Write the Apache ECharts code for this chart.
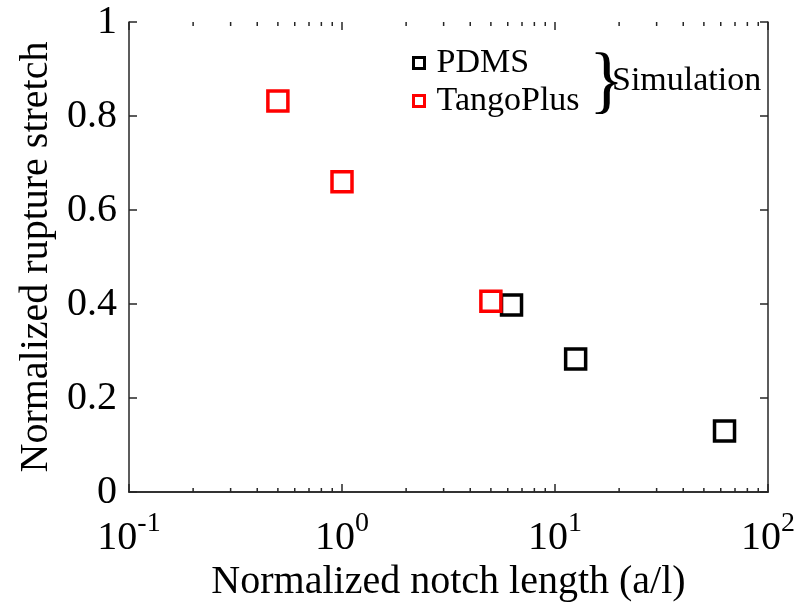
<!DOCTYPE html>
<html>
<head>
<meta charset="utf-8">
<script src="https://cdn.jsdelivr.net/npm/echarts@6/dist/echarts.min.js"></script>
<style>
html,body{margin:0;padding:0;background:#fff;}
#chart{width:808px;height:608px;}
</style>
</head>
<body>
<div id="chart"></div>
<script>
// ---- data ----
const pdmsX = [6.25, 12.5, 62.5];
const pdmsY = [0.398, 0.283, 0.13];
const tangoX = [0.5, 1.0, 5.0];
const tangoY = [0.832, 0.66, 0.406];
const yTicks = [0, 0.2, 0.4, 0.6, 0.8, 1];
const majorTickValues = [0.1, 1, 10, 100];
const minorTickValues = [0.2,0.3,0.4,0.5,0.6,0.7,0.8,0.9,2,3,4,5,6,7,8,9,20,30,40,50,60,70,80,90];
const seriesNames = ['PDMS', 'TangoPlus'];
const seriesColors = ['#000000', '#ff0000'];
const groupLabel = 'Simulation';
const xTitle = 'Normalized notch length (a/l)';
const yTitle = 'Normalized rupture stretch';

const FONT = '"Liberation Serif", "Times New Roman", serif';
const AX = '#262626';

const chart = echarts.init(document.getElementById('chart'), null, {renderer: 'canvas'});

function zip(xs, ys) { return xs.map((x, i) => [x, ys[i]]); }

const tickData = majorTickValues.map(v => [v, 8]).concat(minorTickValues.map(v => [v, 4]));

const option = {
  animation: false,
  backgroundColor: '#fff',
  textStyle: {fontFamily: FONT},
  grid: {left: 129, right: 40, top: 22, bottom: 116, containLabel: false},
  legend: {
    orient: 'vertical',
    left: 412, top: 46, padding: 0,
    itemWidth: 11, itemHeight: 11, itemGap: 4,
    data: seriesNames.map((n, i) => ({name: n, icon: 'rect',
      itemStyle: {color: '#fff', borderColor: seriesColors[i], borderWidth: 3}})),
    textStyle: {fontFamily: FONT, fontSize: 34, lineHeight: 34, color: '#000', padding: [0, 0, 0, 7]},
    selectedMode: false
  },
  graphic: [
    {type: 'text', x: 589, y: 48, style: {text: '}', font: '73px ' + FONT, fill: '#000', verticalAlign: 'top'}},
    {type: 'text', x: 612, y: 64, style: {text: groupLabel, font: '34px ' + FONT, fill: '#000', verticalAlign: 'top'}}
  ],
  xAxis: [{
    type: 'log', logBase: 10, min: 0.1, max: 100,
    name: xTitle, nameLocation: 'middle', nameGap: 69,
    nameTextStyle: {fontFamily: FONT, fontSize: 40, color: '#000'},
    axisLine: {show: true, lineStyle: {color: AX, width: 1.5}},
    axisTick: {show: false},
    splitLine: {show: false},
    axisLabel: {
      margin: 18, color: '#000',
      formatter: function (v) { const e = Math.round(Math.log10(v)); return '{b|10}{sup|' + e + '}'; },
      rich: {
        b: {fontSize: 40, lineHeight: 48, fontFamily: FONT, color: '#000', verticalAlign: 'bottom'},
        sup: {fontSize: 28, lineHeight: 28, verticalAlign: 'top', fontFamily: FONT, color: '#000'}
      }
    }
  }, {
    type: 'log', logBase: 10, min: 0.1, max: 100, position: 'top',
    axisLine: {show: true, lineStyle: {color: AX, width: 1.5}},
    axisTick: {show: false},
    axisLabel: {show: false}, splitLine: {show: false}
  }],
  yAxis: [{
    type: 'value', min: 0, max: 1, interval: 0.2,
    name: yTitle, nameLocation: 'middle', nameGap: 73, nameRotate: 90,
    nameTextStyle: {fontFamily: FONT, fontSize: 40, color: '#000'},
    axisLine: {show: true, lineStyle: {color: AX, width: 1.5}},
    axisTick: {show: true, inside: true, length: 8, lineStyle: {color: AX, width: 1.5}},
    splitLine: {show: false},
    axisLabel: {margin: 12, color: '#000', fontSize: 40, fontFamily: FONT,
      formatter: function (v) { return String(+v.toFixed(1)); }}
  }, {
    type: 'value', min: 0, max: 1, interval: 0.2, position: 'right',
    axisLine: {show: true, lineStyle: {color: AX, width: 1.5}},
    axisTick: {show: true, inside: true, length: 8, lineStyle: {color: AX, width: 1.5}},
    axisLabel: {show: false}, splitLine: {show: false}
  }],
  series: [
    {
      name: 'PDMS', type: 'scatter', xAxisIndex: 0, yAxisIndex: 0,
      symbol: 'rect', symbolSize: 20,
      itemStyle: {color: '#fff', borderColor: seriesColors[0], borderWidth: 3.5, opacity: 1},
      data: zip(pdmsX, pdmsY)
    },
    {
      name: 'TangoPlus', type: 'scatter', xAxisIndex: 0, yAxisIndex: 0,
      symbol: 'rect', symbolSize: 20,
      itemStyle: {color: 'rgba(255,255,255,0)', borderColor: seriesColors[1], borderWidth: 3.5, opacity: 1},
      data: zip(tangoX, tangoY)
    },
    {
      name: 'xTicks', type: 'custom', xAxisIndex: 0, yAxisIndex: 0,
      silent: true, legendHoverLink: false, clip: false,
      data: tickData,
      renderItem: function (params, api) {
        const len = api.value(1);
        const pb = api.coord([api.value(0), 0]);
        const pt = api.coord([api.value(0), 1]);
        const st = {stroke: AX, lineWidth: 1.5};
        return {type: 'group', children: [
          {type: 'line', shape: {x1: pb[0], y1: pb[1], x2: pb[0], y2: pb[1] - len}, style: st},
          {type: 'line', shape: {x1: pt[0], y1: pt[1], x2: pt[0], y2: pt[1] + len}, style: st}
        ]};
      },
      encode: {x: 0}
    }
  ]
};
chart.setOption(option);
</script>
</body>
</html>
